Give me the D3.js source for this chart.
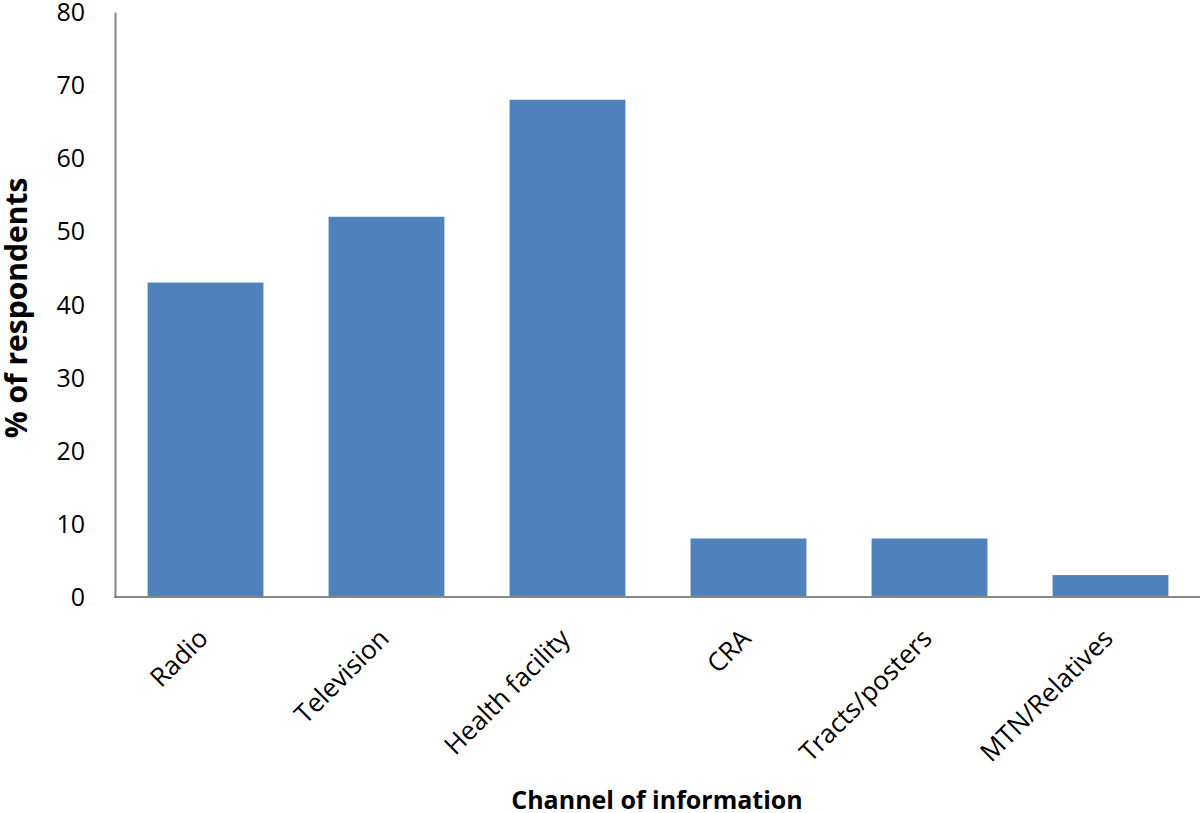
<!DOCTYPE html>
<html><head><meta charset="utf-8">
<script src="https://cdn.jsdelivr.net/npm/d3@7"></script>
<style>body{margin:0;background:#fff}svg{display:block}</style>
</head><body>
<script>
const categories = ["Radio","Television","Health facility","CRA","Tracts/posters","MTN/Relatives"];
const values = [43, 52, 68, 8, 8, 3];
const yTicks = [0,10,20,30,40,50,60,70,80];

const W = 1200, H = 813;
const mLeft = 115, mRight = 1201, mTop = 12, mBottom = 597;
const font = "'Open Sans', 'Noto Sans', sans-serif";

const svg = d3.select("body").append("svg").attr("width", W).attr("height", H);

const x = d3.scaleBand().domain(categories).range([mLeft, mRight]).paddingInner(0.36).paddingOuter(0.18);
const y = d3.scaleLinear().domain([0, 80]).range([mBottom, mTop]);

svg.append("g").selectAll("rect").data(values).join("rect")
  .attr("x", (d,i) => x(categories[i]))
  .attr("y", d => y(d))
  .attr("width", x.bandwidth())
  .attr("height", d => y(0) - y(d))
  .attr("fill", "#4F81BD");

const yAxis = svg.append("g").attr("transform", `translate(${mLeft},0)`)
  .call(d3.axisLeft(y).tickValues(yTicks).tickSize(0).tickPadding(30));
yAxis.select(".domain").attr("stroke", "#878787").attr("stroke-width", 2);
yAxis.selectAll("text").attr("font-family", font).attr("font-size", 25).attr("fill", "#000")
  .attr("dy", "0.34em");

const xAxis = svg.append("g").attr("transform", `translate(0,${mBottom})`)
  .call(d3.axisBottom(x).tickSize(0).tickSizeOuter(0));
xAxis.select(".domain").attr("stroke", "#878787").attr("stroke-width", 2).attr("d", `M${mLeft-1},0H${W}`);
xAxis.selectAll("text")
  .attr("font-family", font).attr("font-size", 26).attr("fill", "#000")
  .attr("text-anchor", "end")
  .attr("dy", null).attr("y", 0)
  .attr("transform", "translate(4,43) rotate(-45)");

svg.append("text").attr("x", 657).attr("y", 809)
  .attr("text-anchor", "middle").attr("font-family", font).attr("font-weight", "bold")
  .attr("font-size", 25).text("Channel of information");

svg.append("text").attr("transform", "translate(27,308) rotate(-90)")
  .attr("text-anchor", "middle").attr("font-family", font).attr("font-weight", "bold")
  .attr("font-size", 30).text("% of respondents");
</script>
</body></html>
